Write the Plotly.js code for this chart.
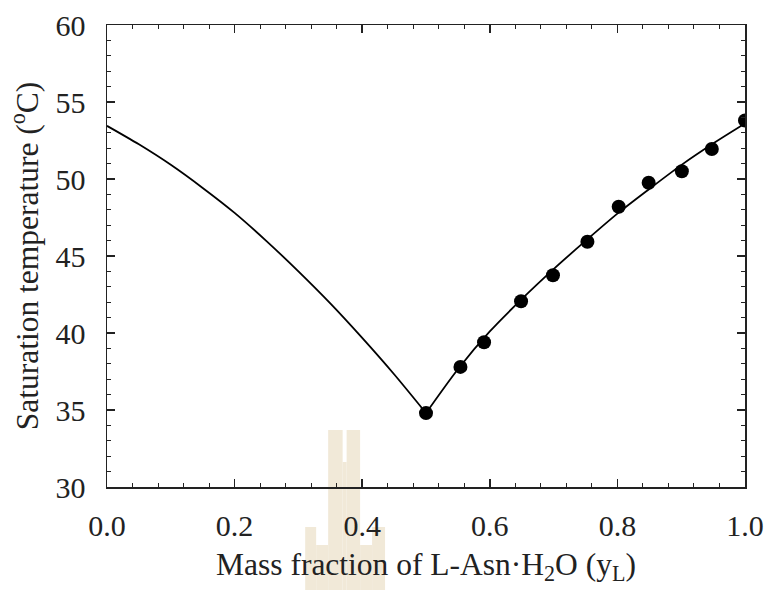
<!DOCTYPE html>
<html>
<head>
<meta charset="utf-8">
<script src="https://cdn.plot.ly/plotly-3.0.1.min.js"></script>
<style>html,body{margin:0;padding:0;background:#fff;}#chart{width:770px;height:590px;}</style>
</head>
<body>
<div id="chart"></div>
<script>
// Model curve (left branch)
const curveLeftX = [0, 0.05, 0.1, 0.15, 0.2, 0.25, 0.3, 0.35, 0.4, 0.45, 0.5];
const curveLeftT = [53.45, 52.25, 50.92, 49.42, 47.8, 45.97, 44.0, 41.92, 39.68, 37.32, 34.8];
// Model curve (right branch)
const curveRightX = [0.5, 0.55, 0.6, 0.65, 0.7, 0.75, 0.8, 0.85, 0.9, 0.95, 1.0];
const curveRightT = [34.8, 37.65, 40.1, 42.2, 44.15, 45.98, 47.75, 49.35, 50.9, 52.3, 53.6];
// Experimental points
const expX = [0.5, 0.554, 0.591, 0.649, 0.699, 0.753, 0.802, 0.849, 0.901, 0.948, 1.0];
const expT = [34.8, 37.8, 39.4, 42.06, 43.75, 45.93, 48.2, 49.76, 50.5, 51.95, 53.8];

const xTickVals = [0, 0.2, 0.4, 0.6, 0.8, 1.0];
const xTickText = ['0.0', '0.2', '0.4', '0.6', '0.8', '1.0'];
const yTickVals = [30, 35, 40, 45, 50, 55, 60];

const FONT = '"Liberation Serif", "Times New Roman", serif';

// watermark decoration (paper coordinates computed from pixel layout)
const L = 106.5, R = 745.5, T = 25, B = 487;
function px(x){return (x - L) / (R - L);}
function py(y){return (B - y) / (B - T);}
const wm = '#f1e9d8';
function rect(x0, y0, x1, y1){
  return {type:'rect', xref:'paper', yref:'paper', x0:px(x0), x1:px(x1), y0:py(y1), y1:py(y0),
          fillcolor:wm, line:{width:0}, layer:'below'};
}
const shapes = [
  rect(328, 430, 342.5, 590),
  rect(346.5, 430, 360, 590),
  rect(342.5, 462, 346.5, 590),
  rect(305, 527, 316, 590),
  rect(316, 545, 328, 590),
  rect(360, 545, 372, 590),
  rect(372, 527, 385, 590)
];

const traces = [
  {x: curveLeftX, y: curveLeftT, mode: 'lines', line: {color: '#000', width: 1.8, shape: 'spline', smoothing: 0.8}, showlegend: false, hoverinfo: 'skip'},
  {x: curveRightX, y: curveRightT, mode: 'lines', line: {color: '#000', width: 1.8, shape: 'spline', smoothing: 0.8}, showlegend: false, hoverinfo: 'skip'},
  {x: expX, y: expT, mode: 'markers', marker: {color: '#000', size: 14, symbol: 'circle'}, showlegend: false}
];

const axisCommon = {
  showgrid: false, zeroline: false, showline: true, linecolor: '#222', linewidth: 1.5,
  mirror: 'allticks', ticks: 'inside', tickcolor: '#222', tickwidth: 1.5, ticklen: 8,
  tickfont: {family: FONT, size: 30, color: '#222'}
};

const layout = {
  width: 770, height: 590,
  margin: {l: 106.5, r: 24.5, t: 25, b: 103},
  paper_bgcolor: '#fff', plot_bgcolor: 'rgba(0,0,0,0)',
  font: {family: FONT, color: '#222'},
  shapes: shapes,
  xaxis: Object.assign({}, axisCommon, {
    range: [0, 1], tickvals: xTickVals, ticktext: xTickText,
    ticklabelstandoff: 11,
    minor: {dtick: 0.04, ticks: 'inside', ticklen: 4, tickcolor: '#222', tickwidth: 1},
    title: {text: 'Mass fraction of L-Asn·H<sub>2</sub>O (y<sub>L</sub>)', font: {family: FONT, size: 31.5, color: '#222'}, standoff: 12}
  }),
  yaxis: Object.assign({}, axisCommon, {
    range: [30, 60], tickvals: yTickVals,
    ticklabelstandoff: 14,
    minor: {dtick: 1, ticks: 'inside', ticklen: 4, tickcolor: '#222', tickwidth: 1},
    title: {text: 'Saturation temperature (<sup>o</sup>C)', font: {family: FONT, size: 31.5, color: '#222'}, standoff: 7}
  })
};

Plotly.newPlot('chart', traces, layout, {displayModeBar: false, staticPlot: true});
</script>
</body>
</html>
